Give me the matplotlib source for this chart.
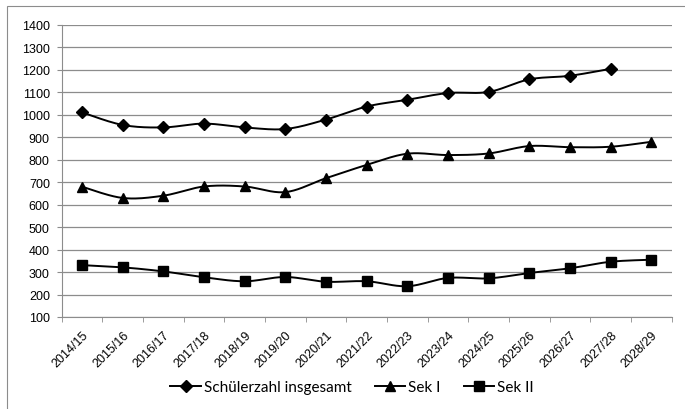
import numpy as np
import matplotlib
matplotlib.use('Agg')
import matplotlib.pyplot as plt
from matplotlib.patches import Rectangle

# Schuljahre und Schülerzahlen
years = ['2014/15', '2015/16', '2016/17', '2017/18', '2018/19', '2019/20', '2020/21',
         '2021/22', '2022/23', '2023/24', '2024/25', '2025/26', '2026/27', '2027/28', '2028/29']
gesamt = [1011, 955, 944, 961, 944, 937, 979, 1037, 1067, 1097, 1102, 1158, 1174, 1205]
sek1 = [680, 630, 640, 681, 681, 656, 718, 777, 827, 821, 828, 861, 856, 858, 880]
sek2 = [331, 321, 303, 277, 259, 278, 257, 259, 237, 274, 272, 296, 317, 346, 355]


def smooth(y, steps=20):
    # Bezier-Glättung wie Excels "geglättete Linie"
    x = np.arange(len(y), dtype=float)
    y = np.asarray(y, dtype=float)
    px = np.concatenate([[x[0]], x, [x[-1]]])
    py = np.concatenate([[y[0]], y, [y[-1]]])
    xs, ys = [], []
    t = np.linspace(0, 1, steps)
    for i in range(1, len(px) - 2):
        p0, p1, p2, p3 = (np.array([px[j], py[j]]) for j in range(i - 1, i + 3))
        c1 = p1 + (p2 - p0) / 6
        c2 = p2 - (p3 - p1) / 6
        pts = ((1 - t) ** 3)[:, None] * p1 + (3 * (1 - t) ** 2 * t)[:, None] * c1 \
            + (3 * (1 - t) * t ** 2)[:, None] * c2 + (t ** 3)[:, None] * p2
        xs.extend(pts[:, 0])
        ys.extend(pts[:, 1])
    return np.array(xs), np.array(ys)


plt.rcParams['font.family'] = ['Liberation Sans', 'DejaVu Sans']

fig = plt.figure(figsize=(6.85, 4.1), dpi=100)
ax = fig.add_axes([0.090, 0.2244, 0.8906, 0.7122])

fig.patches.append(Rectangle((7 / 685, -0.05), 1.2, 1.05 - 7 / 410, transform=fig.transFigure,
                             fill=False, edgecolor='#8c8c8c', linewidth=0.8))

series = [(gesamt, 'D', 5.8, 'Schülerzahl insgesamt'),
          (sek1, '^', 7.5, 'Sek I'),
          (sek2, 's', 7.0, 'Sek II')]
for vals, mk, ms, lab in series:
    sx, sy = smooth(vals)
    ax.plot(sx, sy, color='black', lw=1.4, zorder=3)
    ax.plot(np.arange(len(vals)), vals, linestyle='none', marker=mk, markersize=ms,
            color='black', zorder=4)
    ax.plot([], [], color='black', lw=1.4, marker=mk, markersize=ms, label=lab)

ax.set_xlim(-0.5, len(years) - 0.5)
ax.set_ylim(100, 1400)
ax.set_yticks(np.arange(100, 1401, 100))
ax.set_xticks(np.arange(len(years)))
ax.set_xticklabels(years, rotation=45, ha='right', va='top', rotation_mode='anchor', fontsize=9)
ax.set_xticks(np.arange(-0.5, len(years), 1), minor=True)
ax.tick_params(axis='x', which='major', length=0, pad=8.5)
ax.tick_params(axis='x', which='minor', length=3.5, color='#8c8c8c')
ax.tick_params(axis='y', length=3.5, color='#8c8c8c', labelsize=9, pad=5)

ax.grid(axis='y', color='#8c8c8c', linewidth=0.9)
ax.set_axisbelow(True)
for side in ['top', 'right']:
    ax.spines[side].set_visible(False)
for side in ['left', 'bottom']:
    ax.spines[side].set_color('#8c8c8c')

fig.legend(loc='center', bbox_to_anchor=(0.514, 0.054), ncol=3, frameon=False,
           prop={'family': 'Lato', 'size': 11}, handlelength=2.0, handletextpad=0.2,
           columnspacing=1.5)

fig.savefig('out.png', dpi=100)
